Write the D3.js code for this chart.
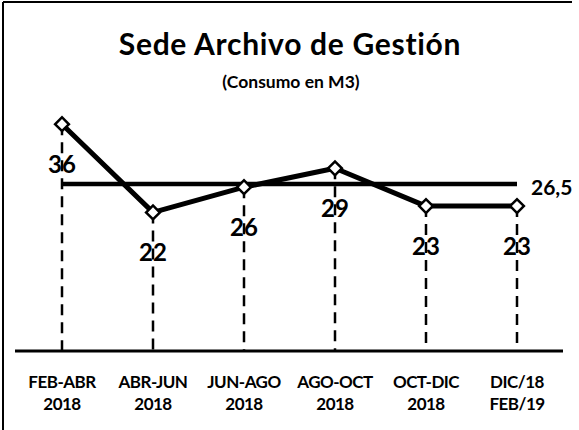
<!DOCTYPE html>
<html>
<head>
<meta charset="utf-8">
<script src="https://cdn.jsdelivr.net/npm/d3@7"></script>
<style>
  body { margin: 0; background: #fff; }
  svg { display: block; font-family: Lato, 'Open Sans', sans-serif; }
</style>
</head>
<body>
<svg width="579" height="430"></svg>
<script>
'use strict'

// periods and their two label lines
const periods = ['FEB-ABR 2018', 'ABR-JUN 2018', 'JUN-AGO 2018', 'AGO-OCT 2018', 'OCT-DIC 2018', 'DIC/18 FEB/19']
const periodLine1 = ['FEB-ABR', 'ABR-JUN', 'JUN-AGO', 'AGO-OCT', 'OCT-DIC', 'DIC/18']
const periodLine2 = ['2018', '2018', '2018', '2018', '2018', 'FEB/19']
const consumo = [36, 22, 26, 29, 23, 23]
const promedio = [26.5, 26.5, 26.5, 26.5, 26.5, 26.5]
const promedioLabel = '26,5'

const svg = d3.select('svg')

const x = d3.scalePoint().domain(periods).range([62, 517])
const y = d3.scaleLinear().domain([0, 40]).range([351, 99])

// frame (only top and left edges show in the scan)
svg.append('line')
    .attr('x1', 3).attr('x2', 572).attr('y1', 2).attr('y2', 2)
    .attr('stroke', '#000').attr('stroke-width', 2)
svg.append('line')
    .attr('x1', 3).attr('x2', 3).attr('y1', 2).attr('y2', 430)
    .attr('stroke', '#000').attr('stroke-width', 2)

svg.append('text')
    .attr('x', 290).attr('y', 55)
    .attr('text-anchor', 'middle')
    .attr('font-size', 30).attr('font-weight', 'bold')
    .attr('letter-spacing', 0.7)
    .text('Sede Archivo de Gestión')

svg.append('text')
    .attr('x', 291).attr('y', 88)
    .attr('text-anchor', 'middle')
    .attr('font-size', 17.5).attr('font-weight', 'bold')
    .text('(Consumo en M3)')

const pts = periods.map((p, i) => ({ p, v: consumo[i], i }))

// drop lines
svg.append('g')
    .selectAll('line')
    .data(pts)
    .enter()
    .append('line')
    .attr('x1', d => x(d.p)).attr('x2', d => x(d.p))
    .attr('y1', d => y(d.v)).attr('y2', y(0))
    .attr('stroke', '#000')
    .attr('stroke-width', 2.5)
    .attr('stroke-dasharray', '11,7')

// x axis
const xAxis = svg.append('g')
    .attr('transform', `translate(0,${y(0)})`)
    .call(d3.axisBottom(x).tickSize(0).tickFormat(''))
xAxis.select('.domain').remove()
xAxis.append('line')
    .attr('x1', 15).attr('x2', 563)
    .attr('stroke', '#000').attr('stroke-width', 3)

const tick = svg.append('g')
    .selectAll('text')
    .data(pts)
    .enter()
    .append('text')
    .attr('x', d => x(d.p))
    .attr('text-anchor', 'middle')
    .attr('font-size', 17).attr('font-weight', 'bold')
    .attr('letter-spacing', -0.5)
tick.append('tspan').attr('x', d => x(d.p)).attr('y', 388).text(d => periodLine1[d.i])
tick.append('tspan').attr('x', d => x(d.p)).attr('y', 410).text(d => periodLine2[d.i])

// average line
svg.append('path')
    .datum(periods.map((p, i) => ({ p, v: promedio[i] })))
    .attr('fill', 'none')
    .attr('stroke', '#000')
    .attr('stroke-width', 4.5)
    .attr('d', d3.line().x(d => x(d.p)).y(d => y(d.v)))

svg.append('text')
    .attr('x', x(periods[periods.length - 1]) + 14)
    .attr('y', y(promedio[promedio.length - 1]) + 11)
    .attr('font-size', 21).attr('font-weight', 'bold')
    .text(promedioLabel)

// consumption line
svg.append('path')
    .datum(pts)
    .attr('fill', 'none')
    .attr('stroke', '#000')
    .attr('stroke-width', 5)
    .attr('stroke-linejoin', 'round')
    .attr('d', d3.line().x(d => x(d.p)).y(d => y(d.v)))

svg.append('g')
    .selectAll('path')
    .data(pts)
    .enter()
    .append('path')
    .attr('transform', d => `translate(${x(d.p)},${y(d.v)}) rotate(45)`)
    .attr('d', d3.symbol().type(d3.symbolSquare).size(95))
    .attr('fill', '#fff')
    .attr('stroke', '#000')
    .attr('stroke-width', 2.5)

svg.append('g')
    .selectAll('text')
    .data(pts)
    .enter()
    .append('text')
    .attr('x', d => x(d.p))
    .attr('y', d => y(d.v) + 49)
    .attr('text-anchor', 'middle')
    .attr('font-size', 24).attr('font-weight', 'bold')
    .text(d => d.v)
</script>
</body>
</html>
